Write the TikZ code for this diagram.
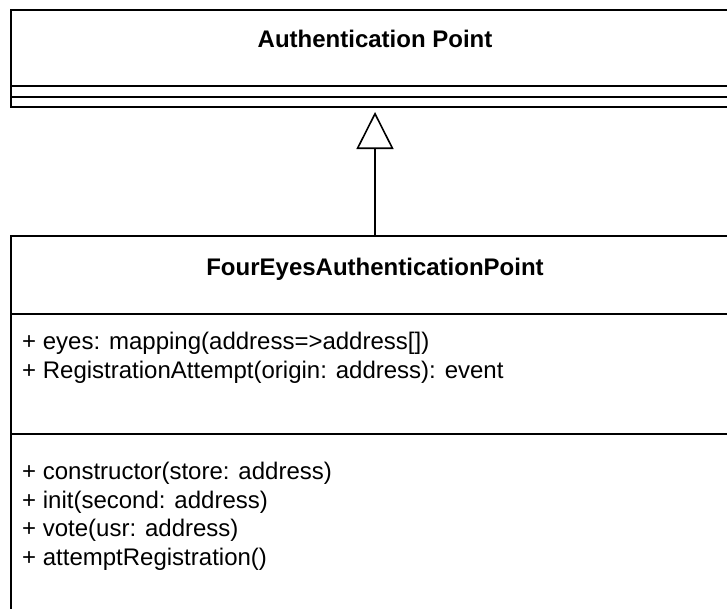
\documentclass[tikz,border=0pt]{standalone}
\usepackage{fontspec}
\setmainfont{Liberation Sans}
\usetikzlibrary{arrows.meta}

\tikzset{
  edge/.style={draw=black, line width=1.6pt},
  title/.style={font=\fontsize{24}{28.8}\selectfont\bfseries, inner sep=0pt, anchor=base},
  member/.style={font=\fontsize{24}{28.8}\selectfont, inner sep=0pt, anchor=base west},
  generalization/.style={edge, -{Triangle[open, length=37pt, width=37pt, line width=1.6pt]}, shorten >=5pt}
}

\begin{document}
\begin{tikzpicture}[x=1pt, y=-1pt]
  \useasboundingbox (0,0) rectangle (727,608);
  \clip (0,0) rectangle (727,608);
  \fill[white] (0,0) rectangle (727,608);

  % Authentication Point: header and two empty compartments
  \draw[edge] (760,10) -- (11,10) -- (11,107) -- (760,107);
  \draw[edge] (11,86) -- (760,86);
  \draw[edge] (11,97) -- (760,97);
  \node[title] (apt) at (375,47) {Authentication Point};

  % FourEyesAuthenticationPoint: header, attributes, operations
  \draw[edge] (760,236) -- (11,236) -- (11,640);
  \draw[edge] (11,314) -- (760,314);
  \draw[edge] (11,434) -- (760,434);
  \node[title] (feap) at (375,275) {FourEyesAuthenticationPoint};

  \node[member] (a1) at (22,349.5) {+ eyes: mapping(address=>address[])};
  \node[member] (a2) at (22,378.3) {+ RegistrationAttempt(origin: address): event};

  \node[member] (m1) at (22,479.5) {+ constructor(store: address)};
  \node[member] (m2) at (22,508.2) {+ init(second: address)};
  \node[member] (m3) at (22,536.9) {+ vote(usr: address)};
  \node[member] (m4) at (22,565.6) {+ attemptRegistration()};

  % inheritance arrow between the two classes
  \coordinate (parentBottom) at (375,107);
  \coordinate (childTop) at (375,236);
  \draw[generalization] (childTop) -- (parentBottom);
\end{tikzpicture}
\end{document}
